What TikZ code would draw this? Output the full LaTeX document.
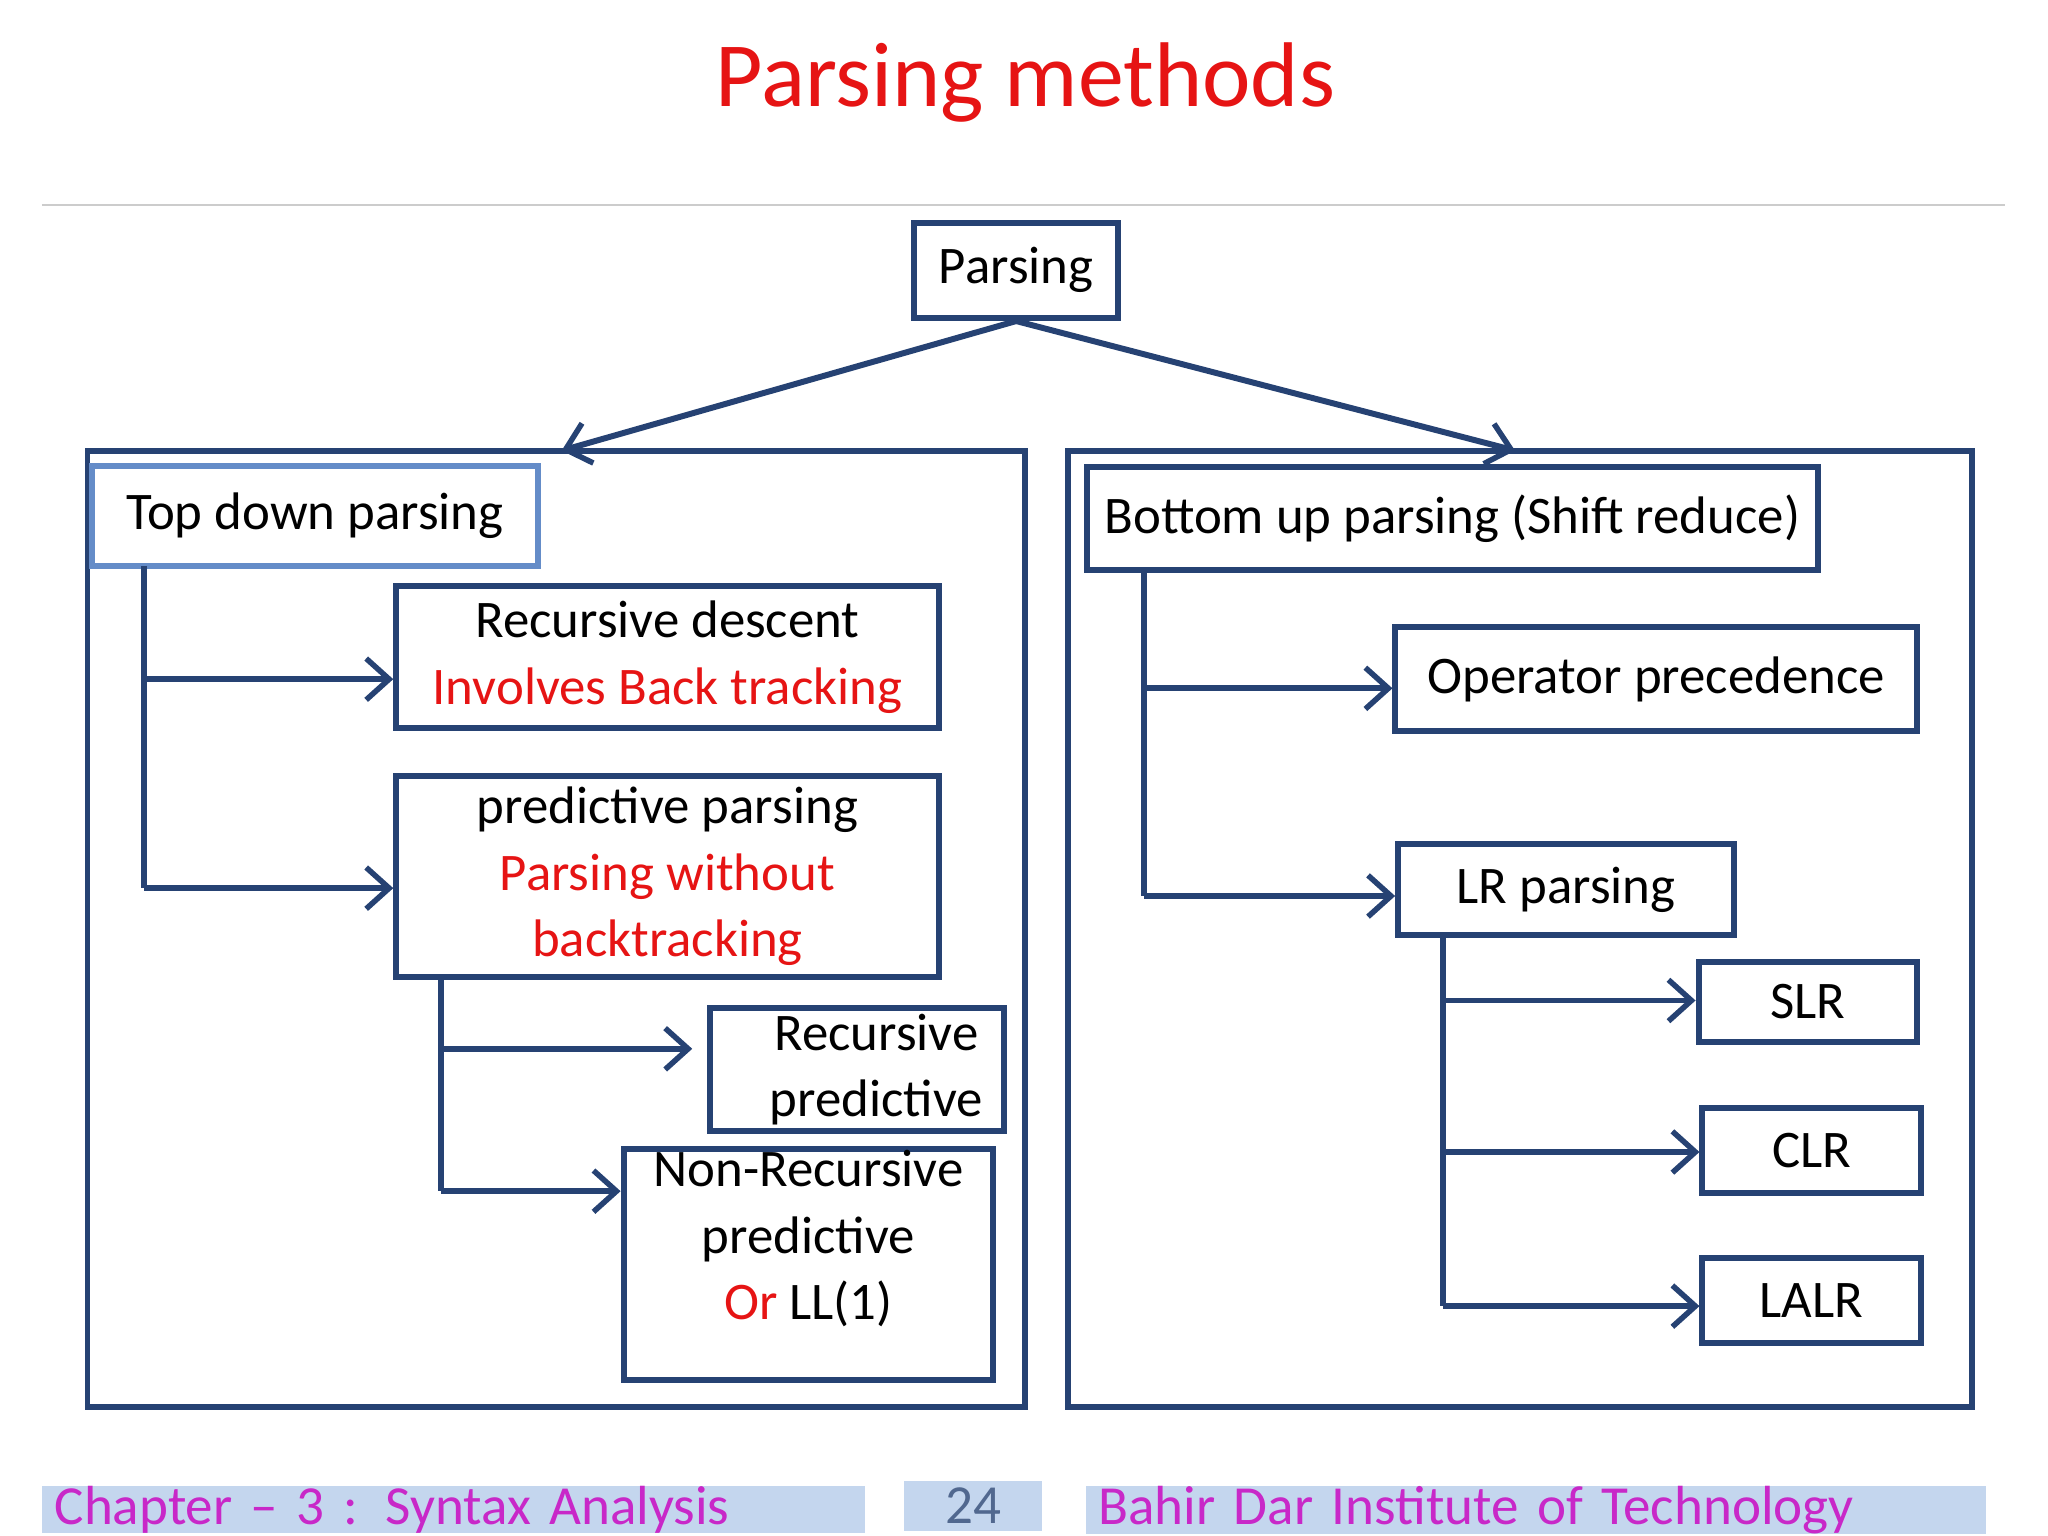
\documentclass[tikz,border=0pt]{standalone}
\usepackage{fontspec}
\setmainfont{Carlito}
\usetikzlibrary{arrows.meta}
\definecolor{bcol}{RGB}{38,66,115}
\definecolor{lbcol}{RGB}{100,140,200}
\definecolor{tred}{RGB}{230,20,20}
\definecolor{fmag}{RGB}{200,40,200}
\definecolor{fbar}{RGB}{196,214,238}
\tikzset{
  box/.style={draw=bcol, line width=1.3pt, inner sep=0pt, align=center, font=\fontsize{11.5}{14.5}\selectfont},
  frame/.style={draw=bcol, line width=1.3pt},
  conn/.style={draw=bcol, line width=1.3pt},
  arr/.style={conn, -{Straight Barb[length=5pt,width=9pt,line width=1.2pt]}},
  foot/.style={fill=fbar, inner sep=0pt, text=fmag, font=\fontsize{12}{14}\selectfont}
}
\begin{document}
\begin{tikzpicture}[x=0.01cm, y=-0.01cm]
  \useasboundingbox (0,0) rectangle (1568,1176);
  % Title
  \node[text=tred, font=\fontsize{20}{24}\selectfont] (title) at (785,63) {Parsing methods};
  \draw[gray!40, line width=0.6pt] (32,157) -- (1535,157);
  % Root
  \node[box, minimum width=1.56cm, minimum height=0.73cm] (root) at (778,207) {Parsing};
  % Frames
  \draw[frame] (67,345) rectangle (785,1077);
  \draw[frame] (818,345) rectangle (1510,1077);
  \coordinate (lt) at (430,345);
  \coordinate (rt) at (1160,345);
  \draw[arr] (root.south) -- (lt);
  \draw[arr] (root.south) -- (rt);
  % Top down side
  \node[box, draw=lbcol, minimum width=3.41cm, minimum height=0.76cm] (td) at (241,395) {Top down parsing};
  \node[box, minimum width=4.15cm, minimum height=1.09cm] (rd) at (511,503)
    {Recursive descent\\ \textcolor{tred}{Involves Back tracking}};
  \node[box, minimum width=4.15cm, minimum height=1.54cm] (pp) at (511,671)
    {predictive parsing\\ \textcolor{tred}{Parsing without}\\ \textcolor{tred}{backtracking}};
  \node[box, minimum width=2.25cm, minimum height=0.94cm] (rp) at (656,819)
    {\hspace*{0.3cm}Recursive\\ \hspace*{0.3cm}predictive};
  \node[box, minimum width=2.83cm, minimum height=1.77cm, text depth=0.45cm] (nrp) at (619,968)
    {Non-Recursive\\ predictive\\ \textcolor{tred}{Or} LL(1)};
  \coordinate (tdb) at (110,680);
  \draw[conn] (110,433) -- (tdb);
  \draw[arr] (110,520) -- (rd.west |- 0,520);
  \draw[arr] (tdb) -- (pp.west |- tdb);
  \coordinate (ppb) at (338,912);
  \draw[conn] (338,748) -- (ppb);
  \draw[arr] (338,803) -- (530,803);
  \draw[arr] (ppb) -- (nrp.west |- ppb);
  % Bottom up side
  \node[box, minimum width=5.59cm, minimum height=0.79cm] (bu) at (1112,397) {Bottom up parsing (Shift reduce)};
  \node[box, minimum width=3.99cm, minimum height=0.80cm] (op) at (1268,520) {Operator precedence};
  \node[box, minimum width=2.57cm, minimum height=0.69cm] (lr) at (1199,681) {LR parsing};
  \node[box, minimum width=1.67cm, minimum height=0.61cm] (slr) at (1384,767) {SLR};
  \node[box, minimum width=1.67cm, minimum height=0.65cm] (clr) at (1387,881) {CLR};
  \node[box, minimum width=1.67cm, minimum height=0.65cm] (lalr) at (1387,996) {LALR};
  \coordinate (bub) at (876,686);
  \draw[conn] (876,437) -- (bub);
  \draw[arr] (876,527) -- (op.west |- 0,527);
  \draw[arr] (bub) -- (lr.west |- bub);
  \coordinate (lrb) at (1105,1000);
  \draw[conn] (1105,716) -- (lrb);
  \draw[arr] (1105,766) -- (slr.west |- 0,766);
  \draw[arr] (1105,882) -- (clr.west |- 0,882);
  \draw[arr] (lrb) -- (lalr.west |- lrb);
  % Footer
  \node[foot, minimum width=6.30cm, minimum height=0.32cm, text width=6.1cm, align=left] (f1) at (347,1156) {Chapter – 3 : Syntax Analysis};
  \node[foot, minimum width=1.05cm, minimum height=0.38cm, text=bcol!80] (f2) at (745,1153) {24};
  \node[foot, minimum width=6.88cm, minimum height=0.32cm, text width=6.7cm, align=left] (f3) at (1176,1156) {Bahir Dar Institute of Technology};
\end{tikzpicture}
\end{document}
